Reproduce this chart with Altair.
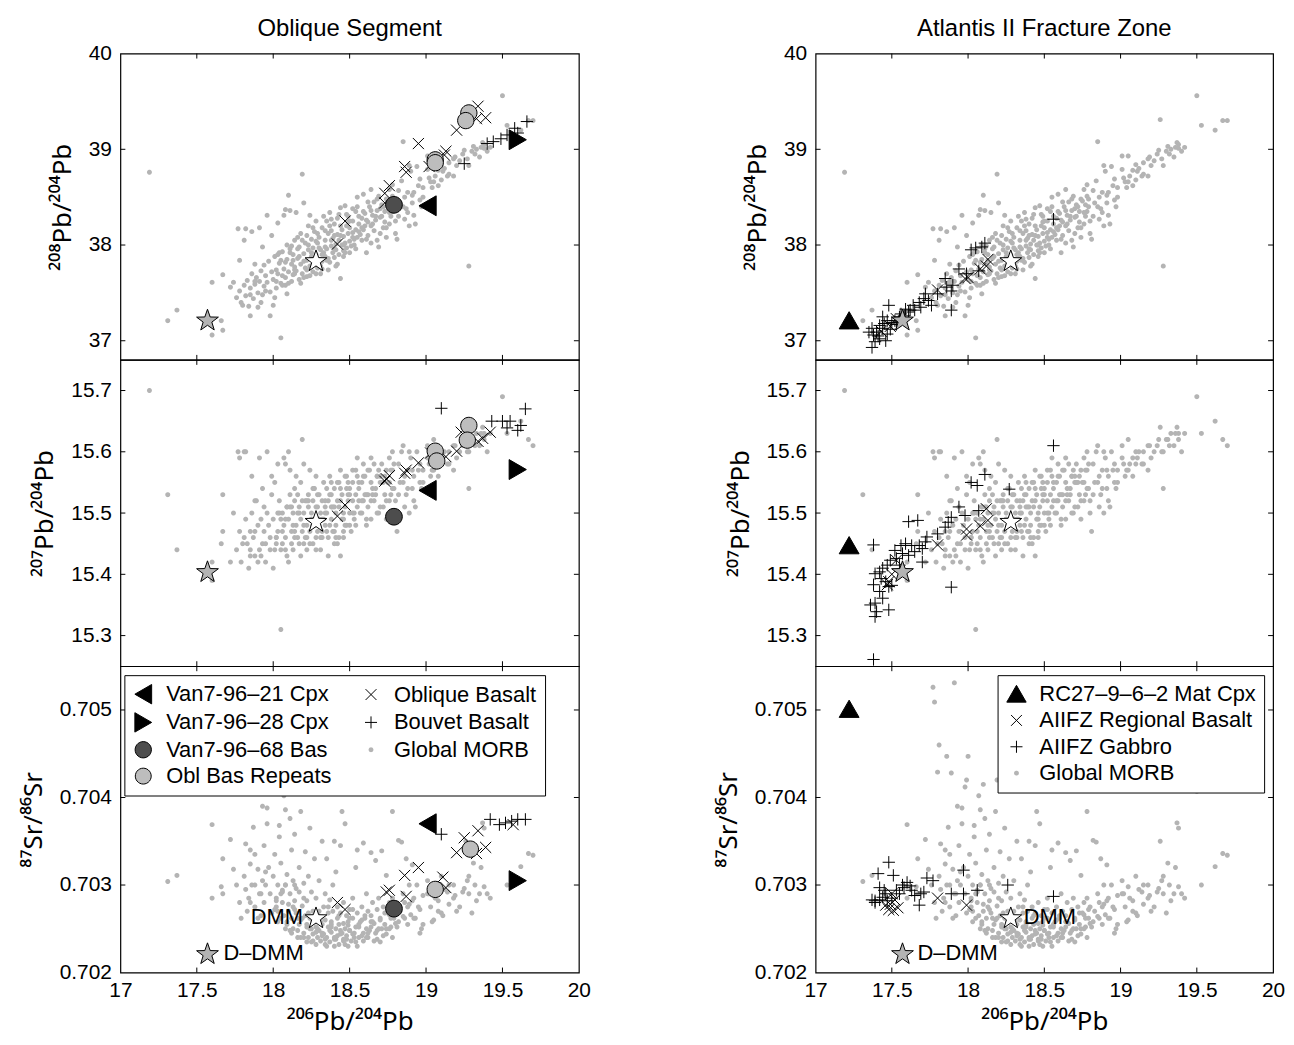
import math
import altair as alt
import pandas as pd

FONT = "Liberation Sans"
TITLE_FONT = "Noto Sans"

# ---------------- Global MORB (same samples in every panel) ----------------
morb_x = [
    17.19, 17.31, 17.37, 17.67, 17.60, 17.60, 17.67, 17.66, 17.72, 17.74,
    17.77, 17.78, 17.81, 17.82, 17.86, 17.80, 17.85, 17.76, 17.78, 17.79,
    17.81, 17.82, 17.83, 17.84, 17.85, 17.86, 17.87, 17.88, 17.89, 17.90,
    17.91, 17.91, 17.92, 17.93, 17.94, 17.94, 17.95, 17.96, 17.96, 17.97,
    17.98, 17.98, 17.99, 18.00, 18.00, 18.01, 18.02, 18.03, 18.03, 18.04,
    18.05, 18.05, 18.06, 18.07, 18.07, 18.08, 18.08, 18.09, 18.09, 18.10,
    18.10, 18.11, 18.11, 18.12, 18.12, 18.13, 18.13, 18.14, 18.14, 18.15,
    18.15, 18.16, 18.17, 18.17, 18.18, 18.18, 18.19, 18.19, 18.20, 18.20,
    18.21, 18.21, 18.22, 18.22, 18.23, 18.23, 18.24, 18.24, 18.25, 18.25,
    18.26, 18.26, 18.27, 18.27, 18.28, 18.28, 18.29, 18.29, 18.30, 18.30,
    18.31, 18.31, 18.32, 18.32, 18.33, 18.33, 18.34, 18.34, 18.35, 18.35,
    18.36, 18.36, 18.37, 18.37, 18.38, 18.38, 18.39, 18.39, 18.40, 18.40,
    18.41, 18.41, 18.42, 18.42, 18.43, 18.43, 18.44, 18.44, 18.45, 18.45,
    18.46, 18.46, 18.47, 18.47, 18.48, 18.48, 18.49, 18.49, 18.50, 18.50,
    18.51, 18.52, 18.52, 18.53, 18.54, 18.54, 18.55, 18.55, 18.56, 18.57,
    18.58, 18.59, 18.59, 18.60, 18.61, 18.61, 18.62, 18.63, 18.64, 18.64,
    18.65, 18.66, 18.67, 18.68, 18.69, 18.69, 18.70, 18.71, 18.72, 18.73,
    18.74, 18.75, 18.76, 18.77, 18.78, 18.78, 18.79, 18.80, 18.81, 18.82,
    18.83, 18.84, 18.85, 18.86, 18.86, 18.87, 18.88, 18.89, 18.89, 18.90,
    18.91, 18.92, 18.93, 18.94, 18.96, 18.96, 18.98, 19.01, 19.01, 19.03,
    19.05, 19.06, 19.08, 19.10, 19.11, 19.14, 19.15, 19.18, 19.18, 19.20,
    19.25, 19.26, 19.28, 19.28, 19.31, 19.32, 19.36, 19.37, 19.38, 19.40,
    19.50, 19.53, 19.62, 19.67, 19.70, 18.02, 18.04, 18.06, 18.08, 18.10,
    18.12, 18.14, 18.16, 18.18, 18.20, 18.22, 18.24, 18.26, 18.28, 18.30,
    18.32, 18.34, 18.36, 18.38, 18.40, 18.42, 18.44, 18.46, 18.48, 18.50,
    18.52, 18.54, 18.56, 18.58, 18.60, 18.62, 18.64, 18.66, 18.68, 18.70,
    18.72, 18.74, 18.76, 18.78, 18.80, 17.90, 17.88, 17.93, 17.99, 18.01,
    18.02, 18.05, 18.08, 18.11, 18.14, 18.17, 18.20, 18.23, 18.26, 18.29,
    18.32, 18.35, 18.38, 18.41, 18.44, 18.47, 18.50, 18.53, 18.56, 18.59,
    18.62, 18.65, 18.68, 18.71, 18.74, 18.77, 17.95, 17.92, 17.88, 17.85,
    18.03, 18.06, 18.09, 18.13, 18.16, 18.19, 18.22, 18.25, 18.28, 18.31,
    18.34, 18.37, 18.40, 18.43, 18.46, 18.49, 18.52, 18.55, 18.58, 18.61,
    18.64, 18.67, 18.70, 18.73, 18.76, 18.79, 18.82, 18.85, 18.88, 18.91,
    18.92, 18.95, 18.98, 19.02, 19.05, 19.08, 19.12, 19.15, 19.19, 19.22,
    19.24, 19.27, 19.30, 19.33, 19.35, 19.38, 19.42, 18.97, 19.04, 19.10,
]
morb_pb8 = [
    38.76, 37.21, 37.32, 37.11, 37.06, 37.61, 37.69, 37.21, 37.56, 37.61,
    38.17, 37.84, 38.05, 38.17, 38.14, 37.37, 37.26, 37.45, 37.52, 37.40,
    37.58, 37.47, 37.63, 37.36, 37.55, 37.70, 37.44, 37.59, 37.66, 37.50,
    38.18, 37.62, 37.73, 37.48, 37.79, 37.57, 37.68, 38.31, 37.61, 37.83,
    37.26, 37.51, 37.72, 37.37, 37.64, 37.88, 37.55, 38.23, 37.70, 37.81,
    37.03, 37.60, 37.93, 38.31, 37.75, 38.37, 37.66, 37.49, 37.85, 38.52,
    37.72, 38.36, 37.96, 37.62, 37.80, 37.90, 37.69, 37.77, 38.05, 38.34,
    37.73, 37.86, 37.64, 37.98, 37.80, 38.12, 38.74, 37.70, 37.91, 38.44,
    37.76, 38.02, 37.84, 37.67, 37.95, 38.20, 38.31, 37.78, 37.88, 38.06,
    37.72, 37.97, 37.82, 38.14, 38.25, 37.90, 37.76, 38.02, 37.85, 38.08,
    37.78, 37.95, 38.18, 37.83, 37.92, 38.30, 37.88, 38.05, 38.25, 37.96,
    37.86, 38.12, 37.82, 38.34, 37.99, 38.15, 37.92, 38.07, 37.87, 38.22,
    38.01, 37.95, 38.11, 38.28, 37.90, 38.05, 37.65, 38.39, 38.00, 38.16,
    37.94, 38.09, 38.41, 38.02, 38.20, 37.97, 38.12, 38.30, 38.04, 38.18,
    37.99, 38.13, 38.25, 38.06, 38.35, 38.16, 38.50, 38.08, 38.22, 38.11,
    38.28, 38.53, 38.16, 38.33, 38.06, 37.92, 38.24, 38.40, 38.58, 38.20,
    38.31, 38.45, 38.26, 38.36, 38.51, 37.98, 38.29, 38.42, 38.18, 38.35,
    38.48, 38.46, 38.58, 38.30, 38.63, 38.51, 38.40, 38.25, 38.06, 38.57,
    38.44, 38.67, 39.08, 38.50, 38.27, 38.38, 38.55, 38.20, 38.83, 38.77,
    38.44, 38.31, 38.22, 38.82, 38.69, 38.47, 38.60, 38.93, 38.79, 38.66,
    38.93, 38.72, 38.62, 38.84, 38.77, 38.72, 38.86, 38.90, 38.72, 38.83,
    38.99, 39.31, 38.83, 37.78, 39.03, 38.95, 39.02, 39.07, 39.01, 38.98,
    39.56, 39.25, 39.20, 39.30, 39.30, 37.74, 37.92, 37.68, 37.82, 37.60,
    37.99, 37.70, 38.08, 37.60, 37.83, 38.10, 37.68, 38.18, 37.70, 37.97,
    37.75, 38.15, 37.74, 38.27, 37.96, 37.80, 38.20, 37.88, 38.32, 37.92,
    38.38, 37.96, 38.30, 38.05, 38.20, 38.45, 38.02, 38.15, 38.48, 38.12,
    38.40, 38.08, 38.22, 38.35, 38.12, 37.35, 37.80, 37.98, 38.10, 37.45,
    37.62, 37.84, 37.58, 37.92, 37.74, 37.88, 37.66, 38.00, 37.80, 38.12,
    37.90, 37.84, 38.05, 37.78, 38.10, 37.92, 38.25, 38.00, 38.14, 38.35,
    38.10, 38.22, 38.05, 38.30, 38.18, 38.42, 37.52, 37.40, 37.62, 37.48,
    37.90, 37.58, 38.00, 37.84, 37.96, 38.05, 37.74, 37.92, 38.04, 37.70,
    37.98, 38.20, 38.10, 38.32, 38.00, 38.24, 38.08, 38.40, 38.18, 38.26,
    38.36, 38.30, 38.38, 38.24, 38.34, 38.48, 38.30, 38.40, 38.34, 38.52,
    38.55, 38.62, 38.50, 38.70, 38.66, 38.78, 38.80, 38.74, 38.92, 38.88,
    38.95, 38.90, 38.98, 39.00, 38.92, 39.05, 39.02, 38.40, 38.60, 38.68,
]
morb_pb7 = [
    15.70, 15.53, 15.44, 15.47, 15.39, 15.42, 15.53, 15.45, 15.42, 15.50,
    15.60, 15.59, 15.60, 15.60, 15.56, 15.45, 15.43, 15.44, 15.47, 15.42,
    15.46, 15.49, 15.45, 15.41, 15.47, 15.50, 15.46, 15.43, 15.52, 15.48,
    15.59, 15.44, 15.49, 15.45, 15.51, 15.47, 15.42, 15.60, 15.50, 15.48,
    15.44, 15.46, 15.53, 15.41, 15.49, 15.55, 15.45, 15.58, 15.47, 15.52,
    15.31, 15.44, 15.50, 15.59, 15.48, 15.58, 15.46, 15.43, 15.51, 15.60,
    15.49, 15.57, 15.53, 15.45, 15.47, 15.50, 15.44, 15.52, 15.54, 15.56,
    15.48, 15.46, 15.45, 15.51, 15.49, 15.55, 15.62, 15.47, 15.50, 15.58,
    15.46, 15.52, 15.48, 15.44, 15.51, 15.53, 15.57, 15.47, 15.49, 15.50,
    15.45, 15.52, 15.48, 15.54, 15.56, 15.46, 15.47, 15.51, 15.49, 15.53,
    15.44, 15.50, 15.52, 15.47, 15.49, 15.55, 15.48, 15.51, 15.54, 15.50,
    15.46, 15.52, 15.48, 15.56, 15.49, 15.53, 15.47, 15.51, 15.45, 15.54,
    15.50, 15.48, 15.52, 15.55, 15.46, 15.51, 15.43, 15.57, 15.49, 15.53,
    15.47, 15.50, 15.56, 15.51, 15.54, 15.48, 15.52, 15.55, 15.50, 15.53,
    15.47, 15.52, 15.55, 15.49, 15.57, 15.53, 15.59, 15.51, 15.54, 15.50,
    15.55, 15.58, 15.52, 15.56, 15.49, 15.48, 15.53, 15.57, 15.59, 15.52,
    15.54, 15.58, 15.53, 15.56, 15.57, 15.50, 15.55, 15.58, 15.51, 15.56,
    15.57, 15.55, 15.59, 15.53, 15.60, 15.57, 15.54, 15.52, 15.47, 15.58,
    15.55, 15.60, 15.61, 15.56, 15.51, 15.53, 15.57, 15.50, 15.60, 15.59,
    15.54, 15.52, 15.51, 15.60, 15.58, 15.55, 15.57, 15.61, 15.59, 15.56,
    15.62, 15.58, 15.56, 15.60, 15.59, 15.58, 15.60, 15.61, 15.57, 15.59,
    15.62, 15.64, 15.60, 15.54, 15.62, 15.61, 15.63, 15.64, 15.63, 15.60,
    15.69, 15.63, 15.65, 15.62, 15.61, 15.46, 15.50, 15.47, 15.49, 15.42,
    15.51, 15.46, 15.53, 15.43, 15.48, 15.52, 15.45, 15.54, 15.44, 15.49,
    15.46, 15.52, 15.43, 15.55, 15.47, 15.45, 15.54, 15.46, 15.56, 15.48,
    15.57, 15.48, 15.55, 15.50, 15.53, 15.57, 15.49, 15.52, 15.56, 15.51,
    15.55, 15.49, 15.52, 15.54, 15.50, 15.42, 15.52, 15.54, 15.56, 15.44,
    15.46, 15.49, 15.44, 15.51, 15.47, 15.50, 15.45, 15.52, 15.48, 15.53,
    15.49, 15.47, 15.51, 15.46, 15.52, 15.48, 15.54, 15.50, 15.52, 15.56,
    15.51, 15.53, 15.50, 15.55, 15.52, 15.57, 15.45, 15.43, 15.47, 15.44,
    15.50, 15.45, 15.51, 15.48, 15.50, 15.52, 15.46, 15.49, 15.51, 15.46,
    15.50, 15.53, 15.51, 15.55, 15.49, 15.53, 15.50, 15.56, 15.52, 15.53,
    15.55, 15.54, 15.56, 15.53, 15.55, 15.58, 15.53, 15.55, 15.54, 15.57,
    15.56, 15.57, 15.55, 15.58, 15.57, 15.59, 15.60, 15.58, 15.61, 15.60,
    15.61, 15.60, 15.62, 15.63, 15.61, 15.62, 15.63, 15.54, 15.57, 15.58,
]
morb_sr = [
    None, 0.70304, 0.70311, 0.70290, 0.70369, 0.70285, 0.70330, 0.70298, 0.70352, 0.70318,
    0.70526, 0.70509, 0.70460, 0.70347, 0.70447, 0.70429, 0.70324, 0.70300, 0.70280, 0.70262,
    0.70310, 0.70295, 0.70270, 0.70285, 0.70340, 0.70300, 0.70366, 0.70275, 0.70428, 0.70318,
    0.70531, 0.70290, 0.70265, 0.70305, 0.70345, 0.70280, 0.70300, 0.70370, 0.70388, 0.70320,
    0.70412, 0.70290, 0.70268, 0.70447, 0.70310, 0.70335, 0.70275, 0.70300, 0.70258, 0.70355,
    0.70290, 0.70325, 0.70280, 0.70402, 0.70265, 0.70386, 0.70300, 0.70255, 0.70312, 0.70415,
    0.70270, 0.70376, 0.70290, 0.70262, 0.70340, 0.70305, 0.70250, 0.70282, 0.70358, 0.70296,
    0.70268, 0.70248, 0.70292, 0.70320, 0.70260, 0.70384, 0.70420, 0.70276, 0.70245, 0.70302,
    0.70265, 0.70338, 0.70255, 0.70282, 0.70240, 0.70310, 0.70365, 0.70262, 0.70250, 0.70292,
    0.70270, 0.70244, 0.70258, 0.70330, 0.70285, 0.70252, 0.70240, 0.70268, 0.70305, 0.70248,
    0.70262, 0.70236, 0.70350, 0.70255, 0.70275, 0.70244, 0.70260, 0.70290, 0.70330, 0.70240,
    0.70252, 0.70268, 0.70235, 0.70283, 0.70258, 0.70246, 0.70270, 0.70300, 0.70238, 0.70350,
    0.70250, 0.70315, 0.70242, 0.70275, 0.70255, 0.70232, 0.70268, 0.70345, 0.70245, 0.70384,
    0.70238, 0.70280, 0.70370, 0.70250, 0.70265, 0.70242, 0.70230, 0.70258, 0.70272, 0.70248,
    0.70236, 0.70262, 0.70285, 0.70245, 0.70320, 0.70252, 0.70340, 0.70268, 0.70240, 0.70258,
    0.70275, 0.70348, 0.70245, 0.70262, 0.70290, 0.70250, 0.70270, 0.70248, 0.70337, 0.70265,
    0.70280, 0.70256, 0.70328, 0.70272, 0.70250, 0.70285, 0.70262, 0.70339, 0.70275, 0.70255,
    0.70311, 0.70268, 0.70280, 0.70252, 0.70384, 0.70285, 0.70262, 0.70275, 0.70252, 0.70351,
    0.70270, 0.70349, 0.70290, 0.70280, 0.70262, 0.70330, 0.70255, 0.70278, 0.70300, 0.70266,
    0.70323, 0.70285, 0.70262, 0.70300, 0.70245, 0.70272, 0.70288, 0.70305, 0.70290, 0.70275,
    0.70260, 0.70285, 0.70270, 0.70310, 0.70265, 0.70292, 0.70278, 0.70300, 0.70285, 0.70270,
    0.70296, 0.70350, 0.70310, 0.70290, 0.70325, 0.70300, 0.70320, 0.70371, 0.70365, 0.70290,
    0.70407, 0.70300, 0.70321, 0.70336, 0.70334, 0.70282, 0.70368, 0.70294, 0.70250, 0.70278,
    0.70245, 0.70300, 0.70262, 0.70240, 0.70285, 0.70235, 0.70250, 0.70258, 0.70232, 0.70270,
    0.70245, 0.70238, 0.70275, 0.70252, 0.70230, 0.70262, 0.70244, 0.70256, 0.70238, 0.70248,
    0.70272, 0.70235, 0.70255, 0.70242, 0.70265, 0.70240, 0.70258, 0.70236, 0.70248, 0.70260,
    0.70242, 0.70250, 0.70266, 0.70240, 0.70256, 0.70262, 0.70300, 0.70390, 0.70420, 0.70272,
    0.70285, 0.70262, 0.70300, 0.70248, 0.70272, 0.70255, 0.70240, 0.70268, 0.70236, 0.70250,
    0.70242, 0.70230, 0.70255, 0.70238, 0.70248, 0.70232, 0.70262, 0.70240, 0.70252, 0.70236,
    0.70245, 0.70258, 0.70238, 0.70250, 0.70244, 0.70262, 0.70315, 0.70290, 0.70335, 0.70280,
    0.70270, 0.70292, 0.70258, 0.70275, 0.70240, 0.70262, 0.70252, 0.70235, 0.70246, 0.70258,
    0.70232, 0.70248, 0.70240, 0.70265, 0.70236, 0.70254, 0.70244, 0.70230, 0.70260, 0.70240,
    0.70252, 0.70245, 0.70235, 0.70268, 0.70250, 0.70272, 0.70258, 0.70264, 0.70275, 0.70282,
    0.70262, 0.70275, 0.70255, 0.70290, 0.70298, 0.70282, 0.70295, 0.70300, 0.70288, 0.70275,
    0.70292, 0.70305, 0.70268, 0.70282, 0.70290, 0.70298, 0.70285, 0.70250, 0.70258, 0.70268,
]

# ---------------- Oblique Segment samples ----------------
van21_x, van21_pb8, van21_pb7, van21_sr = [19.01], [38.41], [15.537], [0.70370]
van28_x, van28_pb8, van28_pb7, van28_sr = [19.60], [39.10], [15.571], [0.70305]
van68_x, van68_pb8, van68_pb7, van68_sr = [18.79], [38.42], [15.494], [0.70273]

rep8_x = [19.28, 19.26, 19.06, 19.06]
rep8_y = [39.38, 39.30, 38.89, 38.86]
rep7_x = [19.28, 19.27, 19.06, 19.07]
rep7_y = [15.643, 15.619, 15.601, 15.585]
repsr_x = [19.29, 19.06]
repsr_y = [0.70341, 0.70295]

obl8_x = [19.34, 19.39, 19.33, 19.20, 18.95, 19.13, 19.12, 19.02, 18.86, 18.87, 18.76, 18.73, 18.73, 18.47, 18.42]
obl8_y = [39.45, 39.33, 39.32, 39.20, 39.06, 38.98, 38.94, 38.82, 38.82, 38.76, 38.62, 38.54, 38.44, 38.25, 38.01]
obl7_x = [19.23, 19.34, 19.42, 19.20, 19.13, 18.95, 18.87, 18.86, 18.76, 18.73, 18.74, 18.47, 18.42, 19.37, 19.03]
obl7_y = [15.632, 15.617, 15.632, 15.601, 15.592, 15.582, 15.570, 15.565, 15.561, 15.552, 15.556, 15.513, 15.495, 15.622, 15.598]
oblsr_x = [18.42, 18.47, 18.74, 18.76, 18.86, 18.95, 18.87, 19.11, 19.13, 19.20, 19.25, 19.34, 19.39, 19.33, 19.57]
oblsr_y = [0.70280, 0.70272, 0.70292, 0.70294, 0.70311, 0.70320, 0.70287, 0.70309, 0.70297, 0.70337, 0.70354, 0.70362, 0.70343, 0.70336, 0.70369]

bouv8_x = [19.25, 19.40, 19.44, 19.49, 19.53, 19.58, 19.66, 19.60]
bouv8_y = [38.85, 39.06, 39.08, 39.11, 39.15, 39.22, 39.29, 39.17]
bouv7_x = [19.10, 19.43, 19.50, 19.55, 19.53, 19.60, 19.65, 19.62]
bouv7_y = [15.671, 15.650, 15.650, 15.650, 15.639, 15.635, 15.670, 15.643]
bouvsr_x = [19.10, 19.42, 19.48, 19.52, 19.56, 19.60, 19.65]
bouvsr_y = [0.70358, 0.70375, 0.70369, 0.70371, 0.70373, 0.70375, 0.70375]

# ---------------- Atlantis II Fracture Zone samples ----------------
rc_x, rc_pb8, rc_pb7, rc_sr = [17.22], [37.21], [15.447], [0.70501]

gab8_x = [18.56, 18.02, 18.05, 18.11, 18.09, 18.07, 17.94, 17.90, 17.89, 17.89,
          17.86, 17.85, 17.72, 17.71, 17.76, 17.68, 17.64, 17.62, 17.59, 17.48,
          17.44, 17.47, 17.50, 17.42, 17.37, 17.35, 17.38, 17.42, 17.46, 17.47,
          17.49, 17.44, 17.40, 17.37, 17.39, 17.52, 17.55, 17.58, 17.61, 17.65,
          17.69, 17.45, 17.99, 17.80, 17.74, 17.56, 17.53, 17.41]
gab8_y = [38.27, 37.95, 37.97, 38.02, 37.98, 37.73, 37.75, 37.58, 37.52, 37.32,
          37.56, 37.65, 37.49, 37.44, 37.37, 37.40, 37.37, 37.32, 37.33, 37.37,
          37.25, 37.21, 37.19, 37.16, 37.13, 37.09, 37.06, 37.02, 37.00, 37.07,
          37.12, 37.13, 37.09, 36.93, 36.99, 37.21, 37.25, 37.26, 37.30, 37.32,
          37.35, 37.18, 37.70, 37.49, 37.42, 37.28, 37.17, 37.05]
reg8_x = [18.13, 18.12, 18.08, 18.00, 17.98, 17.80, 17.53, 17.49, 17.43]
reg8_y = [37.85, 37.78, 37.75, 37.66, 37.65, 37.53, 37.23, 37.15, 37.10]

gab7_x = [18.56, 18.11, 18.02, 18.06, 18.27, 17.94, 18.07, 17.98, 17.89, 17.87,
          17.85, 17.89, 17.67, 17.61, 17.80, 17.73, 17.72, 17.68, 17.63, 17.59,
          17.56, 17.52, 17.70, 17.65, 17.61, 17.57, 17.53, 17.49, 17.47, 17.44,
          17.42, 17.39, 17.43, 17.46, 17.48, 17.50, 17.38, 17.42, 17.44, 17.39,
          17.36, 17.40, 17.39, 17.48, 17.38, 17.38, 17.70, 17.55]
gab7_y = [15.610, 15.563, 15.550, 15.545, 15.539, 15.510, 15.504, 15.496, 15.493, 15.485,
          15.477, 15.379, 15.488, 15.486, 15.466, 15.461, 15.453, 15.447, 15.447, 15.450,
          15.447, 15.439, 15.442, 15.437, 15.431, 15.434, 15.426, 15.423, 15.415, 15.410,
          15.404, 15.401, 15.393, 15.388, 15.380, 15.382, 15.383, 15.372, 15.361, 15.353,
          15.350, 15.339, 15.331, 15.342, 15.448, 15.261, 15.420, 15.415]
reg7_x = [18.12, 18.13, 18.08, 17.99, 17.99, 17.80, 17.53, 17.48, 17.47, 17.50]
reg7_y = [15.507, 15.488, 15.479, 15.474, 15.464, 15.448, 15.423, 15.388, 15.383, 15.400]

gabsr_x = [17.48, 17.41, 17.51, 17.97, 18.26, 18.56, 18.06, 17.97, 17.89, 17.73,
           17.77, 17.68, 17.60, 17.58, 17.53, 17.63, 17.69, 17.65, 17.37, 17.39,
           17.42, 17.47, 17.50, 17.55, 17.71, 17.46, 17.45, 17.42, 17.39, 17.44,
           17.57, 17.62]
gabsr_y = [0.70326, 0.70313, 0.70311, 0.70317, 0.70300, 0.70287, 0.70294, 0.70290, 0.70290, 0.70308,
           0.70305, 0.70277, 0.70303, 0.70297, 0.70294, 0.70294, 0.70290, 0.70288, 0.70283, 0.70282,
           0.70283, 0.70282, 0.70285, 0.70290, 0.70292, 0.70290, 0.70294, 0.70297, 0.70280, 0.70286,
           0.70300, 0.70299]
regsr_x = [17.80, 17.99, 17.48, 17.51, 17.54, 17.49, 17.46, 17.50, 17.52]
regsr_y = [0.70285, 0.70277, 0.70272, 0.70271, 0.70274, 0.70278, 0.70277, 0.70290, 0.70283]

# ---------------- mantle end-members ----------------
em_names = ["D–DMM", "DMM"]
em_x = [17.57, 18.28]
em_pb8 = [37.22, 37.84]
em_pb7 = [15.405, 15.487]
em_sr = [0.70222, 0.70263]

# ---------------- axes ----------------
X_DOMAIN = [17, 20]
X_LABELS = [17, 17.5, 18, 18.5, 19, 19.5, 20]
X_INNER = [17.5, 18, 18.5, 19, 19.5]
PB8_DOMAIN, PB8_LABELS = [36.8, 40], [37, 38, 39, 40]
PB7_DOMAIN, PB7_LABELS = [15.25, 15.75], [15.3, 15.4, 15.5, 15.6, 15.7]
SR_DOMAIN, SR_LABELS = [0.702, 0.7055], [0.702, 0.703, 0.704, 0.705]


# ---------------- marker shapes (unit = 10 px at mark size 400) ----------------
def poly(points):
    return "M" + "L".join(f"{a:.3f},{b:.3f}" for a, b in points) + "Z"


def circle_path(r, n=28):
    return poly([(r * math.cos(2 * math.pi * k / n), r * math.sin(2 * math.pi * k / n)) for k in range(n)])


def cross_path(h):
    return f"M{-h},{-h}L{h},{h}M{-h},{h}L{h},{-h}"


def plus_path(h):
    return f"M{-h},0L{h},0M0,{-h}L0,{h}"


TRI_LEFT = poly([(-0.866, 0), (0.866, -1), (0.866, 1)])
TRI_RIGHT = poly([(0.866, 0), (-0.866, -1), (-0.866, 1)])
TRI_UP = poly([(0, -0.9), (-1, 0.833), (1, 0.833)])
STAR_PATH = poly([((1.15 if i % 2 == 0 else 0.46) * math.cos(math.radians(-90 + 36 * i)),
                   (1.15 if i % 2 == 0 else 0.46) * math.sin(math.radians(-90 + 36 * i)) + 0.1)
                  for i in range(10)])
MARK_SIZE = 400

# legend order: Vega fills legend columns top-to-bottom
LEFT_NAMES = ["Van7-96–21 Cpx", "Van7-96–28 Cpx", "Van7-96–68 Bas", "Obl Bas Repeats",
              "Oblique Basalt", "Bouvet Basalt", "Global MORB"]
LEFT_SHAPES = [TRI_LEFT, TRI_RIGHT, circle_path(0.84), circle_path(0.82),
               cross_path(0.56), plus_path(0.62), circle_path(0.25)]
LEFT_FILLS = ["black", "black", "#4d4d4d", "#bdbdbd", "transparent", "transparent", "#b4b4b4"]
LEFT_STROKES = ["black", "black", "black", "black", "black", "black", "transparent"]

RIGHT_NAMES = ["RC27–9–6–2 Mat Cpx", "AIIFZ Regional Basalt", "AIIFZ Gabbro", "Global MORB"]
RIGHT_SHAPES = [TRI_UP, cross_path(0.56), plus_path(0.62), circle_path(0.25)]
RIGHT_FILLS = ["black", "transparent", "transparent", "#b4b4b4"]
RIGHT_STROKES = ["black", "black", "black", "transparent"]

LEFT_W, RIGHT_W, PANEL_H = 461, 460, 308


def build_df(parts):
    rows = []
    for xs, ys, name in parts:
        for a, b in zip(xs, ys):
            if a is None or b is None:
                continue
            rows.append({"x": a, "y": b, "series": name})
    return pd.DataFrame(rows)


def make_panel(df, names, shapes, fills, strokes, ydom, ylabels, ytitle,
               width, em_y, show_x=False, legend_kw=None, labels=None, title=None):
    xscale = alt.Scale(domain=X_DOMAIN, nice=False, zero=False)
    yscale = alt.Scale(domain=ydom, nice=False, zero=False)
    xaxis = (alt.Axis(values=X_LABELS, format="~g", title="²⁰⁶Pb/²⁰⁴Pb",
                      labelPadding=7, titlePadding=8) if show_x else None)
    yaxis = alt.Axis(values=ylabels, format="~g", title=ytitle, labelPadding=9, titlePadding=13)
    xenc = alt.X("x:Q", scale=xscale, axis=xaxis)
    yenc = alt.Y("y:Q", scale=yscale, axis=yaxis)

    if legend_kw is not None:
        leg = alt.Legend(title=None, symbolSize=380, symbolStrokeWidth=1,
                         symbolOpacity=1, labelFontSize=22, labelFont=FONT, labelColor="black",
                         labelLimit=600, labelOffset=12, padding=8, rowPadding=4.5,
                         strokeColor="black", fillColor="white", cornerRadius=0,
                         **legend_kw)
    else:
        leg = None

    points = alt.Chart(df).mark_point(filled=True, opacity=1, strokeWidth=1, size=MARK_SIZE).encode(
        x=xenc, y=yenc,
        shape=alt.Shape("series:N", scale=alt.Scale(domain=names, range=shapes), legend=leg),
        fill=alt.Fill("series:N", scale=alt.Scale(domain=names, range=fills), legend=leg),
        stroke=alt.Stroke("series:N", scale=alt.Scale(domain=names, range=strokes), legend=leg),
    )

    em_df = pd.DataFrame({"x": em_x, "y": em_y, "name": em_names,
                          "fc": ["#b4b4b4", "white"]})
    stars = alt.Chart(em_df).mark_point(shape=STAR_PATH, size=MARK_SIZE, filled=True, opacity=1,
                                        stroke="black", strokeWidth=1).encode(
        x=xenc, y=yenc, fill=alt.Fill("fc:N", scale=None))

    layers = [points, stars]
    if labels:
        for name, align, dx in labels:
            sub = em_df[em_df["name"] == name]
            layers.append(alt.Chart(sub).mark_text(align=align, dx=dx, baseline="middle",
                                                   fontSize=22, font=FONT, color="black").encode(
                x=xenc, y=yenc, text="name:N"))

    L = 5
    xt = pd.DataFrame({"x": X_INNER})
    yt = pd.DataFrame({"y": [v for v in ylabels if ydom[0] < v < ydom[1]]})
    rule = dict(color="black", strokeWidth=1)
    layers += [
        alt.Chart(xt).mark_rule(**rule).encode(x=xenc, y=alt.value(PANEL_H), y2=alt.value(PANEL_H - L)),
        alt.Chart(xt).mark_rule(**rule).encode(x=xenc, y=alt.value(0), y2=alt.value(L)),
        alt.Chart(yt).mark_rule(**rule).encode(y=yenc, x=alt.value(0), x2=alt.value(L)),
        alt.Chart(yt).mark_rule(**rule).encode(y=yenc, x=alt.value(width), x2=alt.value(width - L)),
    ]
    ch = alt.layer(*layers).properties(width=width, height=PANEL_H)
    if title:
        ch = ch.properties(title=alt.TitleParams(title, anchor="middle", fontSize=24, font=FONT,
                                                 fontWeight="normal", color="black", offset=2))
    return ch


ind = dict(x="independent", y="independent", shape="independent", fill="independent",
           stroke="independent")
lind = dict(shape="independent", fill="independent", stroke="independent")

# left column
L8 = build_df([(morb_x, morb_pb8, "Global MORB"), (obl8_x, obl8_y, "Oblique Basalt"),
               (bouv8_x, bouv8_y, "Bouvet Basalt"), (rep8_x, rep8_y, "Obl Bas Repeats"),
               (van68_x, van68_pb8, "Van7-96–68 Bas"), (van21_x, van21_pb8, "Van7-96–21 Cpx"),
               (van28_x, van28_pb8, "Van7-96–28 Cpx")])
L7 = build_df([(morb_x, morb_pb7, "Global MORB"), (obl7_x, obl7_y, "Oblique Basalt"),
               (bouv7_x, bouv7_y, "Bouvet Basalt"), (rep7_x, rep7_y, "Obl Bas Repeats"),
               (van68_x, van68_pb7, "Van7-96–68 Bas"), (van21_x, van21_pb7, "Van7-96–21 Cpx"),
               (van28_x, van28_pb7, "Van7-96–28 Cpx")])
LS = build_df([(morb_x, morb_sr, "Global MORB"), (oblsr_x, oblsr_y, "Oblique Basalt"),
               (bouvsr_x, bouvsr_y, "Bouvet Basalt"), (repsr_x, repsr_y, "Obl Bas Repeats"),
               (van68_x, van68_sr, "Van7-96–68 Bas"), (van21_x, van21_sr, "Van7-96–21 Cpx"),
               (van28_x, van28_sr, "Van7-96–28 Cpx")])

lstyle = (LEFT_NAMES, LEFT_SHAPES, LEFT_FILLS, LEFT_STROKES)
left_col = alt.vconcat(
    make_panel(L8, *lstyle, PB8_DOMAIN, PB8_LABELS, "²⁰⁸Pb/²⁰⁴Pb", LEFT_W, em_pb8,
               title="Oblique Segment"),
    make_panel(L7, *lstyle, PB7_DOMAIN, PB7_LABELS, "²⁰⁷Pb/²⁰⁴Pb", LEFT_W, em_pb7),
    make_panel(LS, *lstyle, SR_DOMAIN, SR_LABELS, "⁸⁷Sr/⁸⁶Sr", LEFT_W, em_sr, show_x=True,
               legend_kw=dict(orient="none", legendX=4, legendY=9, columns=2, columnPadding=28),
               labels=[("DMM", "right", -13), ("D–DMM", "left", 16)]),
    spacing=0, bounds="flush",
).resolve_scale(**ind).resolve_legend(**lind)

# right column
R8 = build_df([(morb_x, morb_pb8, "Global MORB"), (gab8_x, gab8_y, "AIIFZ Gabbro"),
               (reg8_x, reg8_y, "AIIFZ Regional Basalt"), (rc_x, rc_pb8, "RC27–9–6–2 Mat Cpx")])
R7 = build_df([(morb_x, morb_pb7, "Global MORB"), (gab7_x, gab7_y, "AIIFZ Gabbro"),
               (reg7_x, reg7_y, "AIIFZ Regional Basalt"), (rc_x, rc_pb7, "RC27–9–6–2 Mat Cpx")])
RS = build_df([(morb_x, morb_sr, "Global MORB"), (gabsr_x, gabsr_y, "AIIFZ Gabbro"),
               (regsr_x, regsr_y, "AIIFZ Regional Basalt"), (rc_x, rc_sr, "RC27–9–6–2 Mat Cpx")])

rstyle = (RIGHT_NAMES, RIGHT_SHAPES, RIGHT_FILLS, RIGHT_STROKES)
right_col = alt.vconcat(
    make_panel(R8, *rstyle, PB8_DOMAIN, PB8_LABELS, "²⁰⁸Pb/²⁰⁴Pb", RIGHT_W, em_pb8,
               title="Atlantis II Fracture Zone"),
    make_panel(R7, *rstyle, PB7_DOMAIN, PB7_LABELS, "²⁰⁷Pb/²⁰⁴Pb", RIGHT_W, em_pb7),
    make_panel(RS, *rstyle, SR_DOMAIN, SR_LABELS, "⁸⁷Sr/⁸⁶Sr", RIGHT_W, em_sr, show_x=True,
               legend_kw=dict(orient="top-right", offset=9, columns=1),
               labels=[("DMM", "left", 13), ("D–DMM", "left", 15)]),
    spacing=0, bounds="flush",
).resolve_scale(**ind).resolve_legend(**lind)

chart = alt.hconcat(left_col, right_col, spacing=123).resolve_scale(**ind).resolve_legend(**lind)
chart = chart.properties(
    padding={"left": 11, "top": 5, "right": 0, "bottom": 0},
    background="white",
).configure(font=FONT).configure_view(
    stroke="black", strokeWidth=1.2
).configure_axis(
    grid=False, domain=False, ticks=False, tickSize=0, labelFontSize=21, labelColor="black",
    labelFont=FONT, titleFont=TITLE_FONT, titleFontSize=26, titleFontWeight="normal",
    titleColor="black", labelFlush=False, labelOverlap=False,
)

chart.save("out.html", embed_options={"renderer": "svg", "actions": False})
